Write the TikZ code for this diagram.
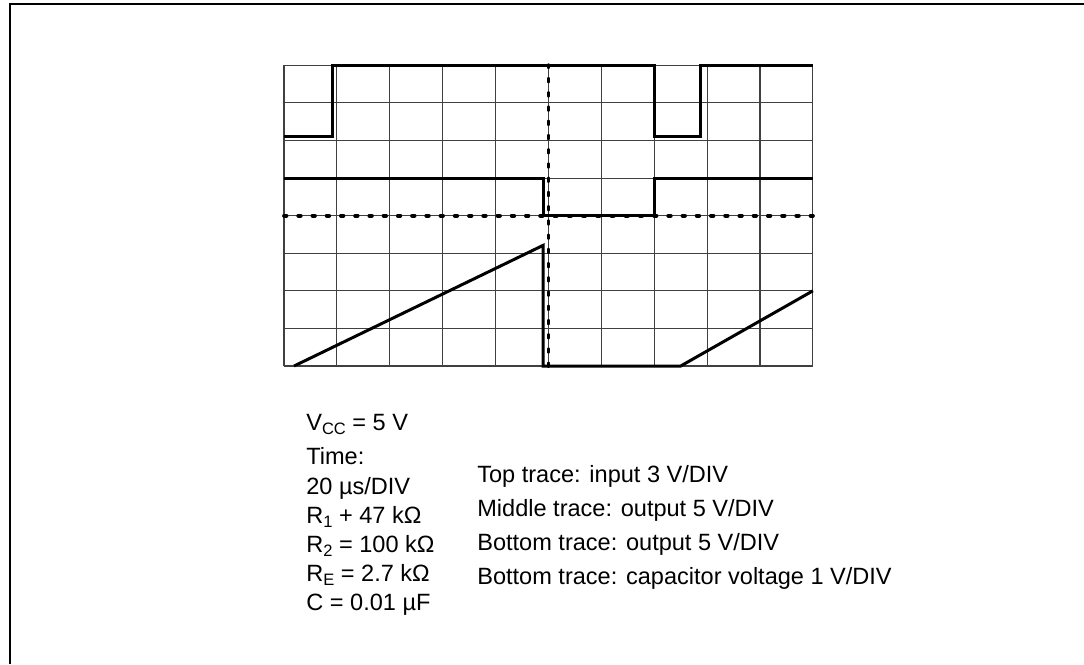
\documentclass[tikz,border=0pt]{standalone}
\usepackage{fontspec}
\setmainfont{Liberation Sans}
\newcommand{\lowsub}[1]{\raisebox{-2.8pt}{\fontsize{9.4}{10}\selectfont #1}}
\begin{document}
\begin{tikzpicture}[x=0.02cm, y=-0.02cm,
  tracepath/.style={line width=1.7pt, line join=miter},
  gridrule/.style={line width=0.6pt, black!75},
  dotrule/.style={line width=2.2pt, line cap=round, dash pattern=on 1.4pt off 6.7pt},
  notetext/.style={anchor=base west, inner sep=0pt, font=\fontsize{13.4}{16}\selectfont}]
 \useasboundingbox (0,0) rectangle (1084,664);
 \draw[line width=1.5pt] (10,664) -- (10,4) -- (1084,4);
 \begin{scope}[shift={(284,366)}, x=1.058cm, y=0.752cm]
  \foreach \i in {0,...,10} \draw[gridrule] (\i,0) -- (\i,8);
  \foreach \j in {0,...,8} \draw[gridrule] (0,\j) -- (10,\j);
  \draw[dotrule] (5,0) -- (5,8);
  \draw[dotrule] (0,4) -- (10,4);
  % top trace
  \draw[tracepath] (0,6.1) -- (0.91,6.1) -- (0.91,8) -- (7,8) -- (7,6.1) -- (7.88,6.1) -- (7.88,8) -- (10,8);
  % middle trace
  \draw[tracepath] (0,5) -- (4.9,5) -- (4.9,4) -- (7,4) -- (7,5) -- (10,5);
  % bottom trace
  \draw[tracepath] (0.19,0) -- (4.9,3.21) -- (4.9,0) -- (7.5,0) -- (10,2);
 \end{scope}
 \node[notetext] (vcc) at (306,430) {V\lowsub{CC} = 5 V};
 \node[notetext] (time) at (306,464) {Time:};
 \node[notetext] (div) at (306,494) {20 µs/DIV};
 \node[notetext] (rone) at (306,523) {R\lowsub{1} + 47 kΩ};
 \node[notetext] (rtwo) at (306,552) {R\lowsub{2} = 100 kΩ};
 \node[notetext] (re) at (306,581) {R\lowsub{E} = 2.7 kΩ};
 \node[notetext] (cap) at (306,610) {C = 0.01 µF};
 \node[notetext] (toptr) at (477,482) {Top trace: input 3 V/DIV};
 \node[notetext] (midtr) at (477,516) {Middle trace: output 5 V/DIV};
 \node[notetext] (bottr) at (477,550) {Bottom trace: output 5 V/DIV};
 \node[notetext] (captr) at (477,584) {Bottom trace: capacitor voltage 1 V/DIV};
\end{tikzpicture}
\end{document}
